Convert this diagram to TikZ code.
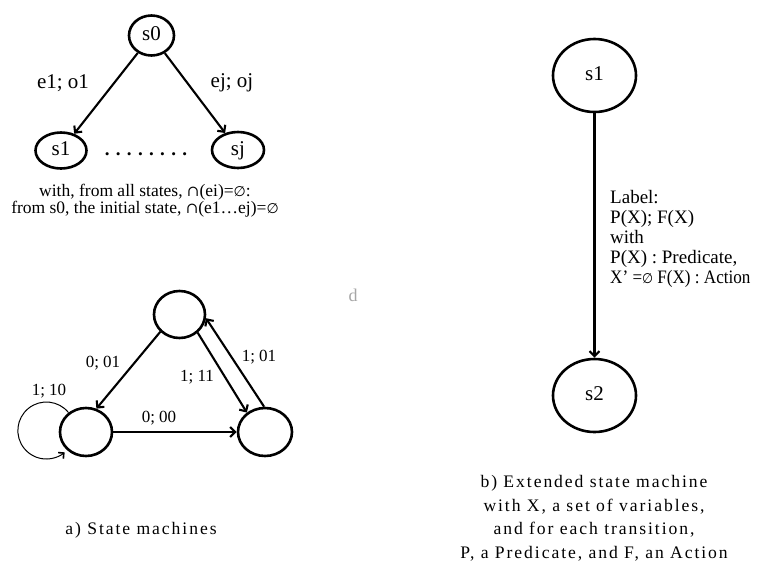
\documentclass[tikz,border=0pt]{standalone}
\usepackage{fontspec}
\setmainfont{Liberation Serif}
\newfontfamily\symfont{DejaVu Serif}
\newfontfamily\symsans{DejaVu Sans}
\newfontfamily\capfont[LetterSpace=11]{Liberation Serif}
\usetikzlibrary{shapes.geometric,arrows.meta}
\newcommand{\myes}{{\symsans\fontsize{14}{14}\selectfont ∅}}
\newcommand{\mycap}{{\symfont\fontsize{15}{15}\selectfont ∩}}
\begin{document}
\begin{tikzpicture}[x=1pt,y=1pt,
  st/.style={draw, ellipse, line width=2.6pt, inner sep=0pt, text height=14pt, text depth=4pt, font=\fontsize{21}{24}\selectfont},
  tr/.style={line width=2.1pt, -{Straight Barb[length=5pt,width=10pt]}},
  thinloop/.style={line width=1pt, -{Straight Barb[length=4pt,width=8pt,line width=1.6pt]}},
  toplab/.style={inner sep=0pt, font=\fontsize{21}{24}\selectfont},
  lab/.style={inner sep=0pt, font=\fontsize{17}{20}\selectfont},
  capstyle/.style={inner sep=0pt, font=\capfont\fontsize{17.6}{23.5}\selectfont}]
\useasboundingbox (0,0) rectangle (758,-576);

% top tree
\node[st, minimum width=45pt, minimum height=40pt] (s0) at (151.5,-35.5) {s0};
\node[st, minimum width=51pt, minimum height=36pt] (s1) at (61,-150.5) {s1};
\node[st, minimum width=52pt, minimum height=36pt] (sj) at (238,-150) {sj};
\draw[tr] (s0) -- (s1);
\draw[tr] (s0) -- (sj);
\node[toplab] (l1) at (63,-83) {e1; o1};
\node[toplab] (l2) at (232,-83) {ej; oj};
\node[inner sep=0pt, anchor=base, font=\bfseries\fontsize{19}{24}\selectfont] (dots) at (146,-155) {. . . . . . . .};
\node[inner sep=0pt, align=center, font=\fontsize{17.5}{17.3}\selectfont] (cap0) at (145,-201)
  {with, from all states, \mycap(ei)=\myes:\\from s0, the initial state, \mycap(e1…ej)=\myes};

% state machine
\node[st, minimum width=51pt, minimum height=47pt] (t) at (179.5,-314.5) {};
\node[st, minimum width=52pt, minimum height=48pt] (ls) at (86,-432) {};
\node[st, minimum width=54pt, minimum height=48pt] (rs) at (265,-432) {};
\draw[tr] (t.222) -- (ls.66);
\draw[tr] (t.-45) -- (rs.133);
\draw[tr] (rs.92) -- (t.-8);
\draw[tr] (ls.east) -- (rs.west);
\draw[thinloop] (ls.132) arc[start angle=39, end angle=310, radius=28.5];
\node[lab] (a1) at (103,-363) {0; 01};
\node[lab] (a2) at (197,-377) {1; 11};
\node[lab] (a3) at (259,-357) {1; 01};
\node[lab] (a4) at (159,-418) {0; 00};
\node[lab] (a5) at (49,-391) {1; 10};
\node[capstyle, anchor=base] (capa) at (141,-534) {a) State machines};

% stray mark
\node[inner sep=0pt, text=black!35, font=\fontsize{18}{20}\selectfont] (dd) at (353,-295) {d};

% extended state machine
\node[st, minimum width=83pt, minimum height=73pt] (r1) at (594.5,-75.5) {s1};
\node[st, minimum width=83pt, minimum height=73pt] (r2) at (594.5,-395.5) {s2};
\draw[tr] (r1) -- (r2);
\node[anchor=north west, align=left, inner sep=0pt, font=\fontsize{19}{20}\selectfont] (rl) at (610,-190)
  {Label:\\P(X); F(X)\\with\\P(X) : Predicate,\\\scalebox{0.9}[1]{X’ =\myes{} F(X) : Action}};
\node[capstyle, align=center] (capb) at (594,-518)
  {b) Extended state machine\\with X, a set of variables,\\and for each transition,\\P, a Predicate, and F, an Action};
\end{tikzpicture}
\end{document}
